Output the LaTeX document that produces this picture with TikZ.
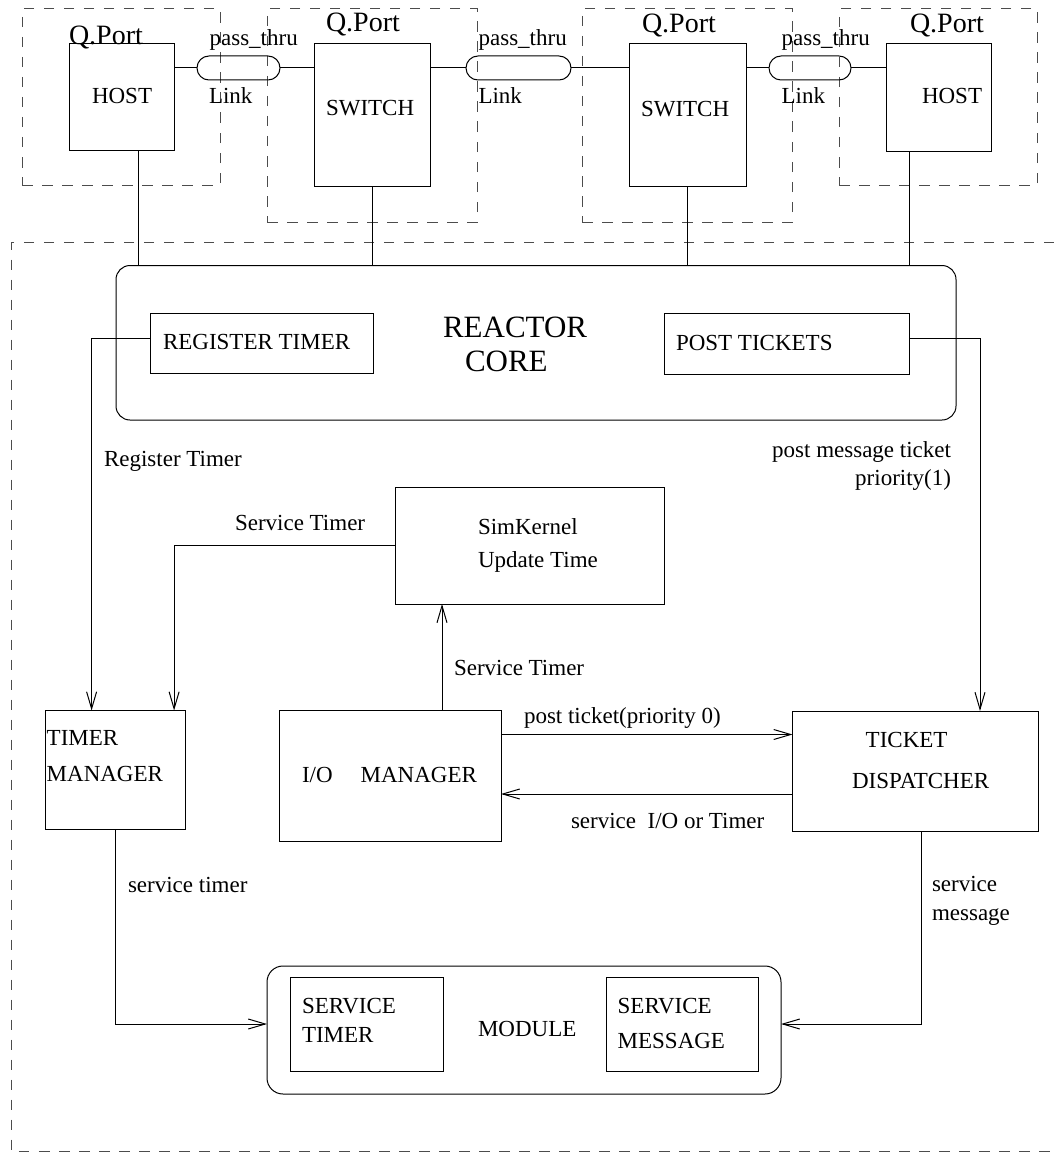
\documentclass[tikz,border=0pt]{standalone}
\usepackage{fontspec}
\setmainfont{Liberation Serif}
\usetikzlibrary{arrows.meta,shapes.misc}
\begin{document}
\begin{tikzpicture}[x=1pt,y=-1pt,
  every node/.style={inner sep=0pt, outer sep=0pt},
  box/.style={draw, line width=1pt, anchor=north west},
  dashdraw/.style={draw=black!70, line width=1pt, dash pattern=on 10.5pt off 9.5pt},
  portbox/.style={dashdraw, anchor=north west},
  pill/.style={draw, rounded rectangle, line width=1pt, minimum height=24pt},
  rbox/.style={draw, rounded corners=14pt, line width=1pt, anchor=north west},
  lbl/.style={font=\fontsize{23}{27}\selectfont, anchor=base west},
  qlbl/.style={font=\fontsize{28}{32}\selectfont, anchor=base west},
  mlbl/.style={align=left, anchor=north west},
  wire/.style={line width=1pt},
  arr/.style={line width=1pt, -{Straight Barb[length=17pt,width=10pt]}},
]
\useasboundingbox (0,0) rectangle (1054,1153);

% ---------- Q.Port groups ----------
\node[portbox, minimum width=198pt, minimum height=176pt] (qp1) at (22,9) {};
\node[portbox, minimum width=210pt, minimum height=213pt] (qp2) at (267,9) {};
\node[portbox, minimum width=210pt, minimum height=213pt] (qp3) at (582,9) {};
\node[portbox, minimum width=198pt, minimum height=176pt] (qp4) at (839,9) {};

\node[box, minimum width=105pt, minimum height=106pt] (host1) at (69,44) {};
\node[box, minimum width=116pt, minimum height=142pt] (sw1) at (314,44) {};
\node[box, minimum width=117pt, minimum height=142pt] (sw2) at (629,44) {};
\node[box, minimum width=105pt, minimum height=107pt] (host2) at (886,44) {};

\node[qlbl] (qpl1) at (69,44.6) {Q.Port};
\node[qlbl] (qpl2) at (326,32) {Q.Port};
\node[qlbl] (qpl3) at (642,32.4) {Q.Port};
\node[qlbl] (qpl4) at (910,32.4) {Q.Port};

\node[lbl] (thost1) at (92,103.5) {HOST};
\node[lbl] (tsw1) at (326,116) {SWITCH};
\node[lbl] (tsw2) at (641,117) {SWITCH};
\node[lbl] (thost2) at (922,104) {HOST};

\node[pill, minimum width=83pt] (pill1) at (238.5,68) {};
\node[pill, minimum width=105pt] (pill2) at (518.5,68) {};
\node[pill, minimum width=82pt] (pill3) at (810,68) {};

\draw[wire] (host1.east |- pill1.west) -- (pill1.west);
\draw[wire] (pill1.east) -- (sw1.west |- pill1.east);
\draw[wire] (sw1.east |- pill2.west) -- (pill2.west);
\draw[wire] (pill2.east) -- (sw2.west |- pill2.east);
\draw[wire] (sw2.east |- pill3.west) -- (pill3.west);
\draw[wire] (pill3.east) -- (host2.west |- pill3.east);

\node[lbl] (pt1) at (209.6,45.6) {pass\_thru};
\node[lbl] (pt2) at (478.6,45.6) {pass\_thru};
\node[lbl] (pt3) at (781.6,46) {pass\_thru};
\node[lbl] (lk1) at (209,103.5) {Link};
\node[lbl] (lk2) at (478.5,103.5) {Link};
\node[lbl] (lk3) at (781.6,104) {Link};

% ---------- outer dashed frame ----------
\draw[dashdraw] (1054,242.5) -- (11,242.5) -- (11,1151.5) -- (1054,1151.5);

% ---------- reactor core ----------
\node[rbox, minimum width=840pt, minimum height=154.5pt] (reactor) at (116,265.5) {};
\node[mlbl, font=\fontsize{31}{34}\selectfont] (treactor) at (443,317) {REACTOR\\\hspace*{22pt}CORE};
\node[box, minimum width=223pt, minimum height=60pt] (regbox) at (150,313) {};
\node[lbl] (treg) at (163,349) {REGISTER TIMER};
\node[box, minimum width=245pt, minimum height=61pt] (postbox) at (664,313) {};
\node[lbl] (tpost) at (676,350) {POST TICKETS};

\coordinate (h1s) at ([xshift=17pt]host1.south);
\coordinate (h2s) at ([xshift=-29pt]host2.south);
\draw[wire] (h1s) -- (h1s |- reactor.north);
\draw[wire] (sw1.south) -- (sw1.south |- reactor.north);
\draw[wire] (sw2.south) -- (sw2.south |- reactor.north);
\draw[wire] (h2s) -- (h2s |- reactor.north);

% ---------- middle ----------
\node[box, minimum width=269pt, minimum height=117pt] (simk) at (395,487) {};
\node[mlbl, font=\fontsize{23}{33.7}\selectfont] (tsimk) at (478,518.3) {SimKernel\\Update Time};

\node[box, minimum width=140pt, minimum height=118.5pt] (tmgr) at (45.6,710.5) {};
\node[mlbl, font=\fontsize{23}{36}\selectfont] (ttmgr) at (46.7,730.8) {TIMER\\MANAGER};

\node[box, minimum width=222pt, minimum height=130.5pt] (iom) at (279,710.5) {};
\node[lbl] (tiom) at (302,782) {I/O\hspace{28pt}MANAGER};

\node[box, minimum width=246pt, minimum height=120pt] (tdisp) at (792.5,711) {};
\node[mlbl, font=\fontsize{23}{41}\selectfont] (ttdisp) at (852,731.8) {\hspace*{13.7pt}TICKET\\DISPATCHER};

\coordinate (rt) at ([yshift=5pt]regbox.west);
\coordinate (tm1) at ([xshift=-24pt]tmgr.north);
\draw[arr] (rt) -| (tm1);
\node[lbl] (lregt) at (104,466) {Register Timer};

\coordinate (pst) at ([yshift=5pt]postbox.east);
\coordinate (td1) at ([xshift=64.5pt]tdisp.north);
\draw[arr] (pst) -| (td1);
\node[align=right, anchor=north east, font=\fontsize{23}{28}\selectfont] (lpost) at (951,441.3) {post message ticket\\priority(1)};

\coordinate (tm2) at ([xshift=58.5pt]tmgr.north);
\draw[arr] (simk.west) -| (tm2);
\node[lbl] (lst1) at (235,530) {Service Timer};

\coordinate (io1) at ([xshift=52pt]iom.north);
\draw[arr] (io1) -- (io1 |- simk.south);
\node[lbl] (lst2) at (454,675) {Service Timer};

\coordinate (ioe1) at ([yshift=41.25pt]iom.east);
\draw[arr] (ioe1) -- (ioe1 -| tdisp.west);
\node[lbl] (lpt0) at (524,723) {post ticket(priority 0)};

\coordinate (tdw) at ([yshift=-23pt]tdisp.west);
\draw[arr] (tdw) -- (tdw -| iom.east);
\node[lbl] (lsio) at (571,828) {service\ \ I/O or Timer};

% ---------- module ----------
\node[rbox, rounded corners=16pt, minimum width=514pt, minimum height=128pt] (module) at (267,966) {};
\node[box, minimum width=153pt, minimum height=94pt] (stbox) at (290,977) {};
\node[mlbl, font=\fontsize{23}{29}\selectfont] (tstbox) at (302,998.2) {SERVICE\\TIMER};
\node[box, minimum width=152pt, minimum height=94pt] (smbox) at (606,977) {};
\node[mlbl, font=\fontsize{23}{34.6}\selectfont] (tsmbox) at (617.7,998.2) {SERVICE\\MESSAGE};
\node[lbl] (tmodule) at (478,1036) {MODULE};

\coordinate (mw) at ([yshift=6pt]module.west);
\coordinate (me) at ([yshift=6pt]module.east);
\coordinate (tds) at ([xshift=5.5pt]tdisp.south);
\draw[arr] (tmgr.south) |- (mw);
\draw[arr] (tds) |- (me);
\node[lbl] (lstm) at (128,892) {service timer};
\node[mlbl, font=\fontsize{23}{29}\selectfont] (lsmsg) at (932,876.3) {service\\message};

\end{tikzpicture}
\end{document}
